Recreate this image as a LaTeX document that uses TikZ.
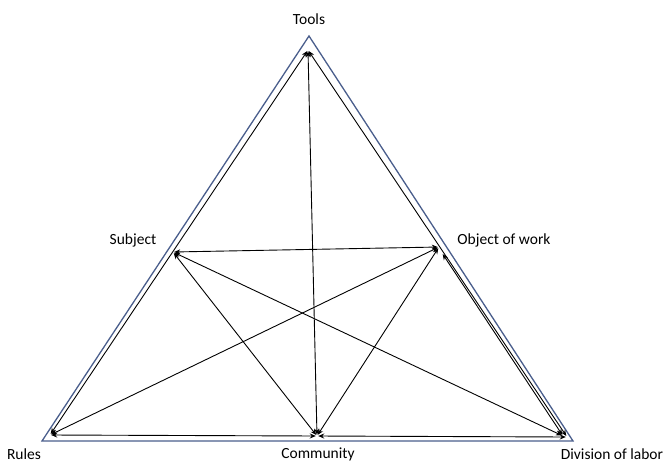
\documentclass[tikz,border=0pt]{standalone}
\usepackage{fontspec}
\setmainfont{Carlito}
\usetikzlibrary{arrows.meta}
\definecolor{outerblue}{HTML}{4A5E8C}
\tikzset{
  lbl/.style={font=\fontsize{15.5}{18}\selectfont, inner sep=0pt},
  pt/.style={inner sep=0pt, minimum size=0pt},
  link/.style={black, line width=0.9pt, {Stealth[length=6pt,width=5pt]}-{Stealth[length=6pt,width=5pt]}, shorten <=1pt, shorten >=1pt},
  outer/.style={outerblue, line width=1.3pt}
}
\begin{document}
\begin{tikzpicture}[x=1pt,y=-1pt]
\useasboundingbox (0,0) rectangle (670,464);
% outer triangle
\coordinate (OT) at (309,36);
\coordinate (OL) at (42,441);
\coordinate (OR) at (573,441);
\draw[outer, line join=miter] (OT) -- (OL) -- (OR) -- cycle;
% inner points
\node[pt] (T) at (308,50) {};
\node[pt] (S) at (173,252) {};
\node[pt] (O) at (439,247) {};
\node[pt] (R) at (50,435) {};
\node[pt] (C) at (317,436) {};
\node[pt] (D) at (567,437) {};
\node[pt] (O2) at (442,253) {};
\node[pt] (D2) at (563,436) {};
% labels
\node[lbl] (lt) at (309,19) {Tools};
\node[lbl] (ls) at (133,240) {Subject};
\node[lbl] (lo) at (504,240) {Object of work};
\node[lbl] (lr) at (24,454) {Rules};
\node[lbl] (lc) at (318,454) {Community};
\node[lbl] (ld) at (612,454) {Division of labor};
% links
\draw[link] (T) -- (R);
\draw[link] (T) -- (D);
\draw[link] (O2) -- (D2);
\draw[link] (T) -- (C);
\draw[link] (S) -- (O);
\draw[link] (S) -- (C);
\draw[link] (S) -- (D2);
\draw[link] (O) -- (R);
\draw[link] (O) -- (C);
\draw[link] (R) -- (C);
\draw[link] (C) -- (D);
\end{tikzpicture}
\end{document}
